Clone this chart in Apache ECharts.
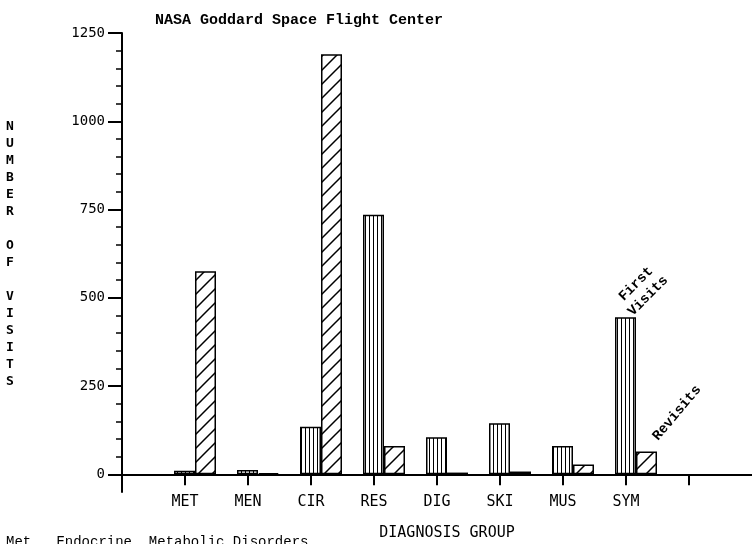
<!DOCTYPE html>
<html>
<head>
<meta charset="utf-8">
<script src="https://cdn.jsdelivr.net/npm/echarts@6/dist/echarts.min.js"></script>
<style>
html, body { margin: 0; padding: 0; background: #fff; }
#chart { width: 752px; height: 544px; }
</style>
</head>
<body>
<div id="chart"></div>
<script>
// diagnosis groups and visit counts
var groups = ['MET', 'MEN', 'CIR', 'RES', 'DIG', 'SKI', 'MUS', 'SYM'];
var firstVisits = [10, 12, 135, 735, 105, 145, 80, 445];
var revisits = [575, 4, 1190, 80, 5, 8, 28, 65];
var yTicks = [0, 250, 500, 750, 1000, 1250];
var yMinorTicks = [50, 100, 150, 200, 300, 350, 400, 450, 550, 600, 650, 700,
    800, 850, 900, 950, 1050, 1100, 1150, 1200];

// one empty slot before the first group, two after the last
var slots = [''].concat(groups, ['', '']);

function makePattern(w, h, draw) {
    var c = document.createElement('canvas');
    c.width = w;
    c.height = h;
    var ctx = c.getContext('2d');
    ctx.fillStyle = '#fff';
    ctx.fillRect(0, 0, w, h);
    ctx.strokeStyle = '#000';
    draw(ctx);
    return {image: c, repeat: 'repeat'};
}

// vertical stripes for first visits
var stripes = makePattern(4, 8, function (ctx) {
    ctx.lineWidth = 1;
    ctx.beginPath();
    ctx.moveTo(1.5, 0);
    ctx.lineTo(1.5, 8);
    ctx.stroke();
});

// diagonal hatch for revisits
var hatch = makePattern(14, 14, function (ctx) {
    ctx.lineWidth = 1.5;
    ctx.beginPath();
    ctx.moveTo(0, 14);
    ctx.lineTo(14, 0);
    ctx.moveTo(-2, 2);
    ctx.lineTo(2, -2);
    ctx.moveTo(12, 16);
    ctx.lineTo(16, 12);
    ctx.stroke();
});

var mono = 'DejaVu Sans Mono';
var typewriter = 'Liberation Mono';

var myChart = echarts.init(document.getElementById('chart'));
var option = {
    backgroundColor: '#fff',
    animation: false,
    title: {
        text: 'NASA Goddard Space Flight Center',
        left: 150,
        top: 8,
        textStyle: {fontFamily: typewriter, fontSize: 15, fontWeight: 'bold', color: '#000'}
    },
    grid: [
        {left: 122, right: 0, top: 33, bottom: 52, outerBoundsMode: 'none', containLabel: false},
        {left: 132, right: -10, top: 33, bottom: 52, outerBoundsMode: 'none', containLabel: false}
    ],
    xAxis: [
        {
            gridIndex: 0,
            type: 'category',
            data: slots,
            boundaryGap: false,
            axisLine: {onZero: true, lineStyle: {color: '#000', width: 2}},
            axisTick: {
                interval: function (i) { return i >= 1 && i <= 9; },
                length: 11,
                lineStyle: {color: '#000', width: 2}
            },
            axisLabel: {interval: 0, margin: 3, fontFamily: mono, fontSize: 15, color: '#000'},
            splitLine: {show: false},
            name: 'DIAGNOSIS GROUP',
            nameLocation: 'middle',
            nameGap: 34,
            nameTextStyle: {fontFamily: mono, fontSize: 15, color: '#000', padding: [0, 0, 0, 20]}
        },
        {
            gridIndex: 1,
            type: 'category',
            data: slots,
            boundaryGap: false,
            show: false
        }
    ],
    yAxis: [
        {
            gridIndex: 0,
            type: 'value',
            position: 'left',
            min: -50,
            max: 1250,
            axisLine: {show: true, onZero: false, lineStyle: {color: '#000', width: 2}},
            axisTick: {show: true, customValues: yTicks, length: 14, lineStyle: {color: '#000', width: 2}},
            axisLabel: {
                customValues: yTicks,
                margin: 17,
                fontFamily: mono,
                fontSize: 14,
                color: '#000',
                formatter: function (v) { return String(v); }
            },
            splitLine: {show: false}
        },
        {
            gridIndex: 0,
            type: 'value',
            position: 'left',
            min: -50,
            max: 1250,
            axisLine: {show: false, onZero: false},
            axisTick: {show: true, customValues: yMinorTicks, length: 6, lineStyle: {color: '#000', width: 1.5}},
            axisLabel: {show: false},
            splitLine: {show: false}
        },
        {
            gridIndex: 1,
            type: 'value',
            min: -50,
            max: 1250,
            show: false,
            splitLine: {show: false}
        }
    ],
    series: [
        {
            name: 'First Visits',
            type: 'bar',
            xAxisIndex: 1,
            yAxisIndex: 2,
            data: [null].concat(firstVisits),
            barWidth: 21,
            barGap: '0%',
            itemStyle: {color: stripes, borderColor: '#000', borderWidth: 1.5}
        },
        {
            name: 'Revisits',
            type: 'bar',
            xAxisIndex: 1,
            yAxisIndex: 2,
            data: [null].concat(revisits),
            barWidth: 21,
            barGap: '0%',
            itemStyle: {color: hatch, borderColor: '#000', borderWidth: 1.5}
        }
    ],
    graphic: [
        {
            type: 'text',
            x: 10,
            y: 118,
            style: {
                text: 'N\nU\nM\nB\nE\nR\n\nO\nF\n\nV\nI\nS\nI\nT\nS',
                font: 'bold 13px "DejaVu Sans Mono"',
                lineHeight: 17,
                align: 'center',
                fill: '#000'
            }
        },
        {
            type: 'text',
            x: 642,
            y: 290,
            rotation: Math.PI / 4,
            style: {
                text: 'First\nVisits',
                font: 'bold 14px "Liberation Mono"',
                lineHeight: 17,
                align: 'center',
                verticalAlign: 'middle',
                fill: '#000'
            }
        },
        {
            type: 'text',
            x: 677,
            y: 413,
            rotation: 50 * Math.PI / 180,
            style: {
                text: 'Revisits',
                font: 'bold 14px "Liberation Mono"',
                align: 'center',
                verticalAlign: 'middle',
                fill: '#000'
            }
        },
        {
            type: 'text',
            x: 6,
            y: 535,
            style: {
                text: 'Met   Endocrine, Metabolic Disorders',
                font: '14px "Liberation Mono"',
                fill: '#000'
            }
        }
    ]
};
myChart.setOption(option);
</script>
</body>
</html>
